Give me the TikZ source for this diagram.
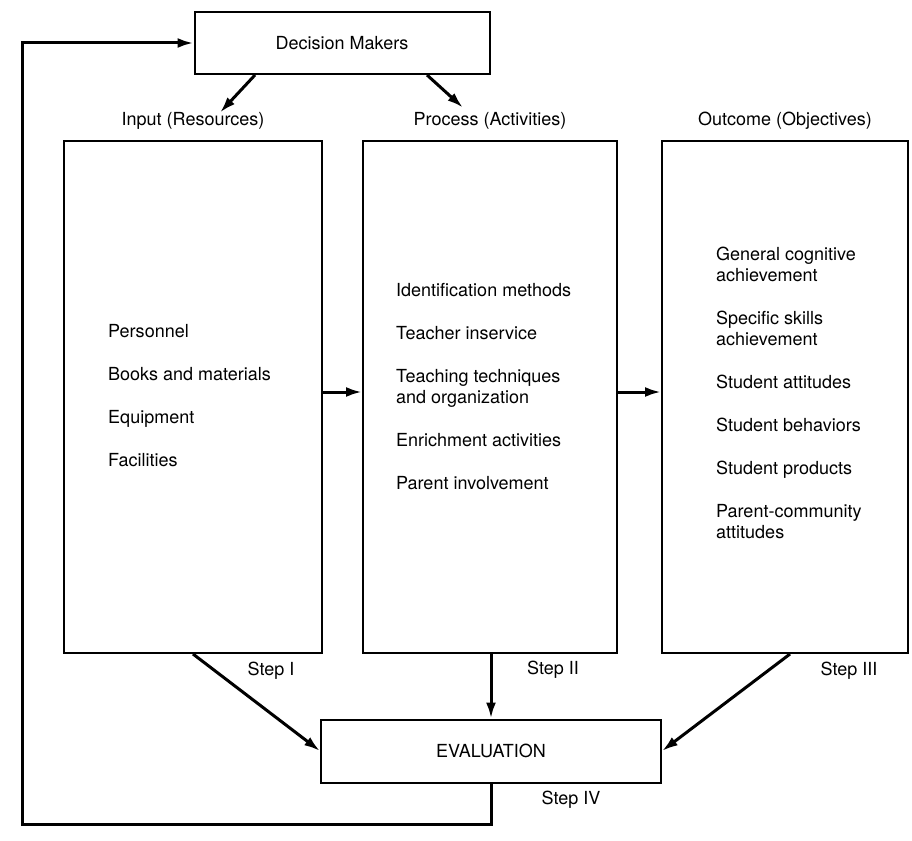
\documentclass[tikz,border=0pt]{standalone}
\usepackage{fontspec}
\setmainfont{TeX Gyre Heros}
\usetikzlibrary{positioning,arrows.meta,calc}

\begin{document}
\begin{tikzpicture}[x=1pt,y=-1pt]
  \tikzset{
    box/.style={draw, line width=2pt, inner sep=0pt},
    arr/.style={line width=3pt, -{Latex[length=16pt,width=10pt]}},
    lbl/.style={font=\fontsize{18}{21}\selectfont, inner sep=0pt},
    items/.style={lbl, align=left, anchor=west},
  }
  \useasboundingbox (0,0) rectangle (912,840);
  % decision makers on top
  \node[box, lbl, minimum width=295pt, minimum height=62pt] (dm) at (342,43) {Decision Makers};
  % the three columns
  \node[box, minimum width=258pt, minimum height=512pt] (inbox) at (193,397) {};
  \node[box, minimum width=254pt, minimum height=512pt] (prbox) at (490,397) {};
  \node[box, minimum width=246pt, minimum height=512pt] (outbox) at (785,397) {};
  \node[lbl, above=10pt of inbox] (inlbl) {Input (Resources)};
  \node[lbl, above=10pt of prbox] (prlbl) {Process (Activities)};
  \node[lbl, above=10pt of outbox] (outlbl) {Outcome (Objectives)};
  \node[items] (inlist) at ([xshift=45pt,yshift=1pt]inbox.west)
    {Personnel\\[22pt] Books and materials\\[22pt] Equipment\\[22pt] Facilities};
  \node[items] (prlist) at ([xshift=34pt,yshift=10pt]prbox.west)
    {Identification methods\\[22pt] Teacher inservice\\[22pt] Teaching techniques\\
     and organization\\[22pt] Enrichment activities\\[22pt] Parent involvement};
  \node[items] (outlist) at ([xshift=55pt,yshift=4pt]outbox.west)
    {General cognitive\\ achievement\\[22pt] Specific skills\\ achievement\\[22pt]
     Student attitudes\\[22pt] Student behaviors\\[22pt] Student products\\[22pt]
     Parent-community\\ attitudes};
  % evaluation at the bottom
  \node[box, lbl, minimum width=340pt, minimum height=63pt] (eval) at (491,751) {EVALUATION};
  \node[lbl] (s1) at (271,671) {Step I};
  \node[lbl] (s2) at (553,670) {Step II};
  \node[lbl] (s3) at (849,671) {Step III};
  \node[lbl] (s4) at (571,800) {Step IV};
  % arrows
  \draw[arr] ([xshift=-87pt]dm.south) -- ([xshift=27pt]inlbl.north);
  \draw[arr] ([xshift=85pt]dm.south) -- ([xshift=-27pt,yshift=5pt]prlbl.north);
  \draw[arr] ([yshift=5pt]inbox.east) -- ([yshift=5pt]prbox.west);
  \draw[arr] ([yshift=5pt]prbox.east) -- ([yshift=5pt]outbox.west);
  \draw[arr] (inbox.south) -- (eval.west);
  \draw[arr] (eval.north |- prbox.south) -- (eval.north);
  \draw[arr] ([xshift=5pt]outbox.south) -- (eval.east);
  % feedback loop
  \coordinate (fbl) at (22,824);
  \draw[arr] (eval.south) |- (fbl) |- (dm.west);
\end{tikzpicture}
\end{document}
